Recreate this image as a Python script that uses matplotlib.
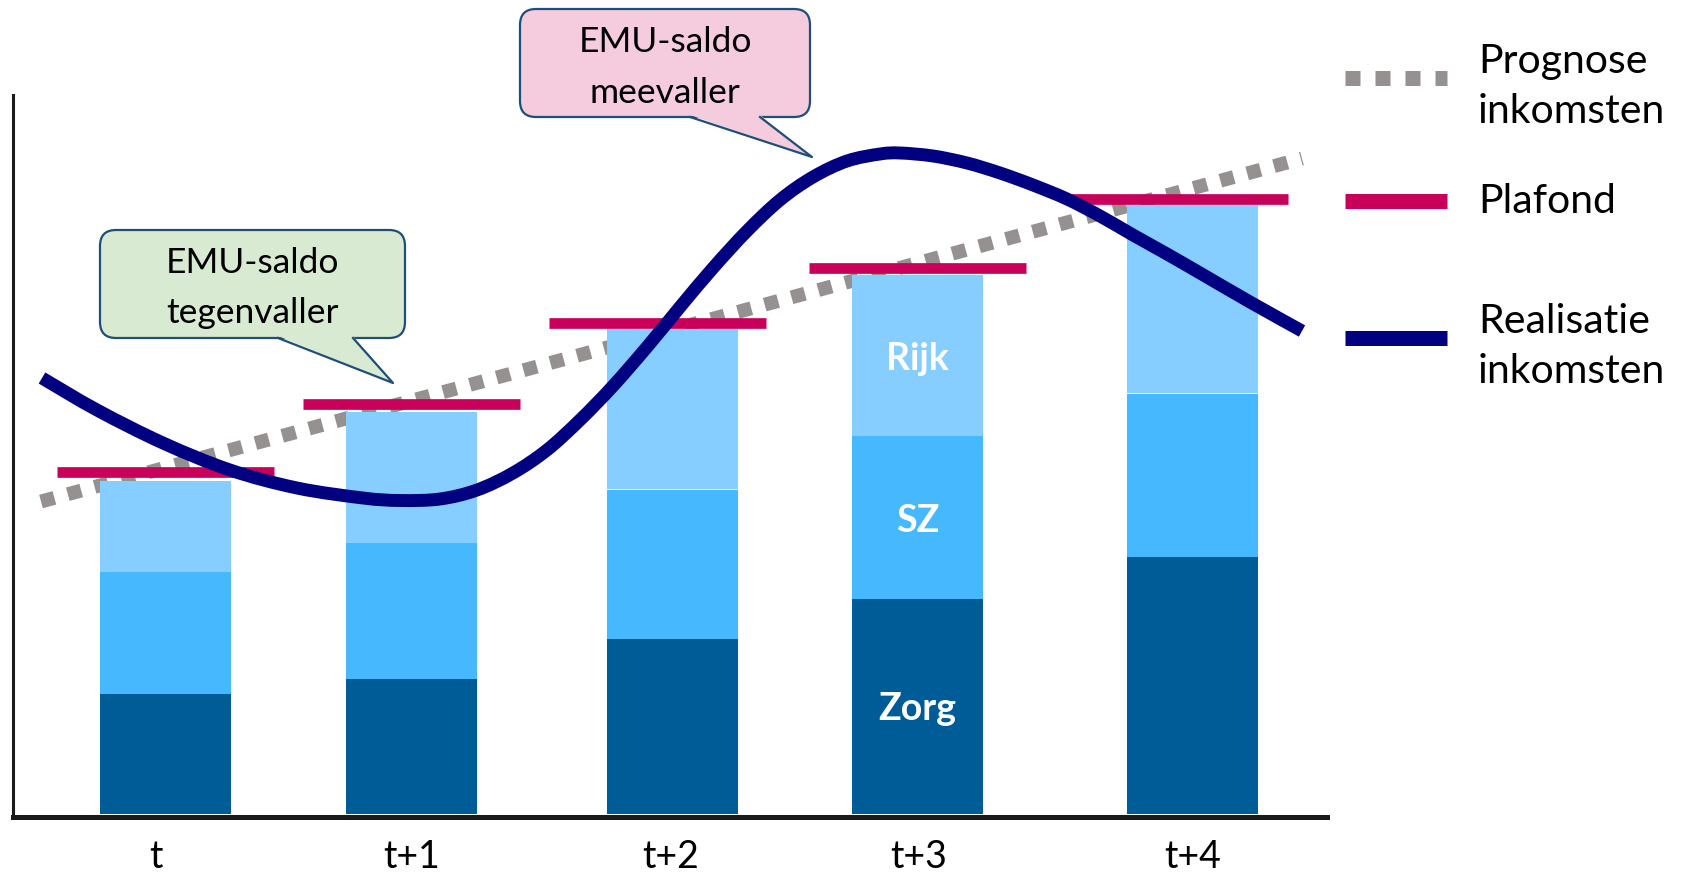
import matplotlib.pyplot as plt
from matplotlib.patches import FancyBboxPatch, Polygon, PathPatch
from matplotlib.path import Path

plt.rcParams['font.family'] = ['Lato', 'DejaVu Sans']

# data (arbitrary units)
periods = ['t', 't+1', 't+2', 't+3', 't+4']
zorg = [12.0, 13.5, 17.5, 21.5, 25.7]
sz = [12.2, 13.6, 14.9, 16.2, 16.3]
rijk = [9.1, 13.1, 16.0, 16.1, 18.8]
plafond = [34.1, 40.9, 49.0, 54.5, 61.4]

prognose_x = [41, 1302]
prognose = [31.2, 65.5]

realisatie_x = [42, 97, 163, 230, 297, 363, 400, 440, 477, 513, 547, 580, 613,
                647, 680, 713, 747, 780, 813, 847, 880, 900, 933, 967, 1000,
                1033, 1067, 1100, 1133, 1167, 1200, 1250, 1302]
realisatie = [43.55, 40.35, 37.05, 34.35, 32.55, 31.55, 31.3, 31.45, 32.35,
              34.05, 36.35, 39.35, 42.75, 46.65, 50.65, 54.55, 58.25, 61.35,
              63.65, 65.25, 65.95, 66.05, 65.75, 65.05, 64.05, 62.85, 61.45,
              59.75, 57.85, 55.95, 54.05, 51.15, 48.25]

# layout
bar_x = [165.5, 411.6, 672.7, 917.7, 1192.8]
plafond_x = [165.5, 411.6, 657.6, 917.5, 1179]
label_x = [156, 411.6, 670.6, 918.8, 1192.8]
bar_w = 131
plafond_w = 217

c_zorg = '#005C97'
c_sz = '#45B8FE'
c_rijk = '#85CEFF'
c_plafond = '#C8005A'
c_real = '#000080'
c_prog = '#959191'


def smooth_path(xs, ys):
    # Catmull-Rom through the read points, drawn as cubic Bezier segments
    pts = list(zip(xs, ys))
    verts = [pts[0]]
    codes = [Path.MOVETO]
    for i in range(len(pts) - 1):
        p0 = pts[i - 1] if i > 0 else pts[i]
        p1 = pts[i]
        p2 = pts[i + 1]
        p3 = pts[i + 2] if i + 2 < len(pts) else pts[i + 1]
        c1 = (p1[0] + (p2[0] - p0[0]) / 6, p1[1] + (p2[1] - p0[1]) / 6)
        c2 = (p2[0] - (p3[0] - p1[0]) / 6, p2[1] - (p3[1] - p1[1]) / 6)
        verts += [c1, c2, p2]
        codes += [Path.CURVE4] * 3
    return Path(verts, codes)


fig = plt.figure(figsize=(16.85, 8.72), dpi=100)
W, H = 1685, 872
ax = fig.add_axes([13 / W, (H - 817) / H, (1327 - 13) / W, (817 - 95) / H])
ax.set_xlim(13, 1327)
ax.set_ylim(-0.35, 71.85)

ax.plot(prognose_x, prognose, color=c_prog, lw=10, dashes=(1, 1),
        dash_capstyle='butt', zorder=1)

bottom_rijk = [z + s for z, s in zip(zorg, sz)]
ax.bar(bar_x, zorg, width=bar_w, color=c_zorg, zorder=2)
ax.bar(bar_x, sz, width=bar_w, bottom=zorg, color=c_sz, zorder=2)
ax.bar(bar_x, rijk, width=bar_w, bottom=bottom_rijk, color=c_rijk, zorder=2)

for px, pv in zip(plafond_x, plafond):
    ax.plot([px - plafond_w / 2, px + plafond_w / 2], [pv, pv], color=c_plafond,
            lw=7.7, solid_capstyle='butt', zorder=3)

ax.add_patch(PathPatch(smooth_path(realisatie_x, realisatie), fc='none',
                       ec=c_real, lw=9.3, capstyle='butt', zorder=5))

# labels inside bar t+3
i = 3
for txt, mid in [('Zorg', zorg[i] / 2),
                 ('SZ', zorg[i] + sz[i] / 2),
                 ('Rijk', zorg[i] + sz[i] + rijk[i] / 2)]:
    ax.text(bar_x[i], mid, txt, color='white', fontsize=27, fontweight='bold',
            ha='center', va='center_baseline', zorder=6)

ax.set_xticks(label_x, periods)
ax.set_yticks([])
ax.tick_params(axis='x', length=0, pad=16, labelsize=27)
for s in ['top', 'right']:
    ax.spines[s].set_visible(False)
ax.spines['left'].set_linewidth(2.2)
ax.spines['bottom'].set_linewidth(3.6)
ax.spines['left'].set_color('#1a1a1a')
ax.spines['bottom'].set_color('#1a1a1a')

# overlay in pixel coordinates for callouts and legend
ov = fig.add_axes([0, 0, 1, 1], zorder=10)
ov.set_xlim(0, W)
ov.set_ylim(H, 0)
ov.axis('off')
ov.patch.set_alpha(0)


def callout(x0, y0, x1, y1, base, tip, fill, lines, baselines):
    edge = '#1F4E79'
    box = FancyBboxPatch((x0, y0), x1 - x0, y1 - y0,
                         boxstyle='round,pad=0,rounding_size=16',
                         fc=fill, ec=edge, lw=1.6)
    ov.add_patch(box)
    tail = Polygon([(base[0], y1 - 2), tip, (base[1], y1 - 2)],
                   closed=True, fc=fill, ec='none')
    ov.add_patch(tail)
    ov.plot([base[0], tip[0], base[1]], [y1, tip[1], y1], color=edge, lw=1.6)
    cx = (x0 + x1) / 2
    for t, b in zip(lines, baselines):
        ov.text(cx, b, t, fontsize=25.5, ha='center', va='baseline', color='black')


callout(100, 230, 405, 338, (278, 353), (393, 383), '#D9EAD3',
        ['EMU-saldo', 'tegenvaller'], [273, 323])
callout(520, 9, 810, 117, (690, 760), (812, 157), '#F4CCDD',
        ['EMU-saldo', 'meevaller'], [52, 103])

# legend
ov.plot([1345, 1447], [78, 78], color=c_prog, lw=10.8, dashes=(1, 1),
        dash_capstyle='butt')
ov.plot([1345, 1447], [201, 201], color=c_plafond, lw=10.8, solid_capstyle='butt')
ov.plot([1345, 1447], [338, 338], color=c_real, lw=10.8, solid_capstyle='butt')
for t, b in [('Prognose', 73), ('inkomsten', 123), ('Plafond', 213),
             ('Realisatie', 333), ('inkomsten', 383)]:
    ov.text(1478, b, t, fontsize=29.5, ha='left', va='baseline', color='black')

fig.savefig('out.png', dpi=100)
